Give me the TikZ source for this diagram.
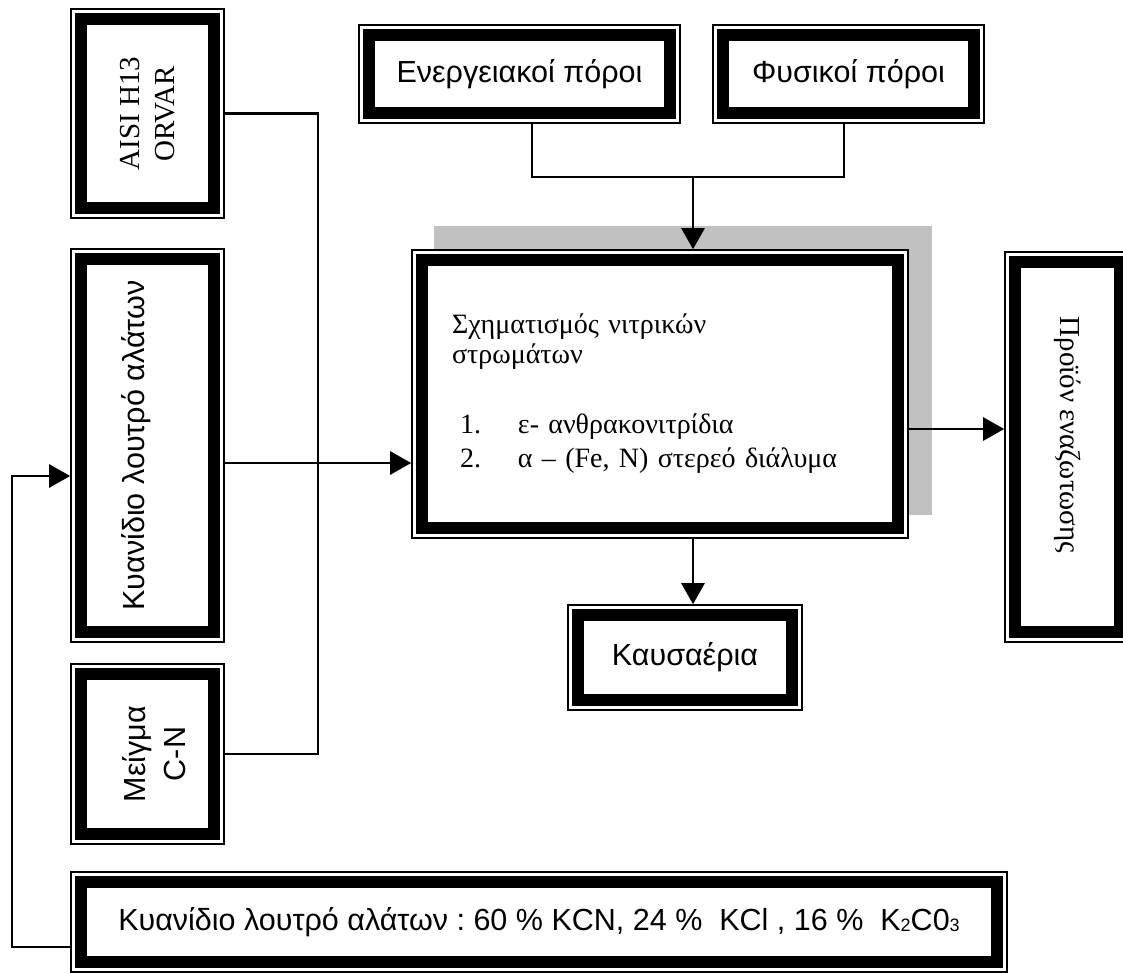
\documentclass[tikz,border=0pt]{standalone}
\usepackage{fontspec}
\setmainfont{Liberation Serif}
\newfontfamily\arialfont{Liberation Sans}
\usetikzlibrary{arrows.meta}
\definecolor{shadowgray}{HTML}{C0C0C0}
\newcommand{\smalldigit}[1]{\raisebox{-1.5pt}{\fontsize{18}{18}\selectfont #1}}
\begin{document}
\begin{tikzpicture}[x=1pt,y=-1pt,
  framebox/.style={draw, line width=1.6pt, fill=white, inner sep=0pt, anchor=center,
    path picture={\draw[line width=12pt]
      ([shift={(10pt,10pt)}]path picture bounding box.south west) rectangle
      ([shift={(-10pt,-10pt)}]path picture bounding box.north east);}},
  link/.style={line width=2.6pt},
  arrowlink/.style={link, -{Triangle[length=21pt,width=23pt]}},
  sanstext/.style={font=\arialfont\fontsize{30.5}{40}\selectfont},
  seriftext/.style={font=\fontsize{29}{40}\selectfont},
]
\useasboundingbox (0,0) rectangle (1123,973);

% shadow behind the central process box
\fill[shadowgray] (434,226) rectangle (932,515);

% input boxes on the left
\node[framebox, seriftext, minimum width=153pt, minimum height=209pt] (aisi) at (147.5,113.5)
  {\rotatebox{90}{\shortstack{AISI H13\\[13pt]ORVAR}}};
\node[framebox, sanstext, minimum width=153pt, minimum height=393pt] (bath) at (147.5,445.5)
  {\hspace*{-23pt}\rotatebox{90}{Κυανίδιο λουτρό αλάτων}};
\node[framebox, sanstext, minimum width=153pt, minimum height=180pt] (mix) at (147.5,754)
  {\hspace*{20pt}\rotatebox{90}{\begin{tabular}{@{}c@{}}Μείγμα\\C-N\end{tabular}}};

% resources at the top
\node[framebox, sanstext, minimum width=321pt, minimum height=98pt] (energy) at (519.5,74)
  {Ενεργειακοί πόροι};
\node[framebox, sanstext, minimum width=271pt, minimum height=98pt] (phys) at (848.5,74)
  {Φυσικοί πόροι};

% central process
\node[framebox, minimum width=496pt, minimum height=288pt, text width=416pt,
      inner xsep=40pt, align=left, font=\fontsize{28}{30}\selectfont] (main) at (660,394)
  {Σχηματισμός νιτρικών\\
   στρωμάτων\\[40pt]
   \hspace*{8pt}\makebox[58pt][l]{1.}ε- ανθρακονιτρίδια\\[4pt]
   \hspace*{8pt}\makebox[58pt][l]{2.}α – (Fe, N) στερεό διάλυμα};

% outputs
\node[framebox, sanstext, minimum width=234pt, minimum height=105pt] (exh) at (685,657.5)
  {Καυσαέρια};
\node[framebox, seriftext, minimum width=125pt, minimum height=390pt] (prod) at (1067.5,447)
  {\rotatebox{-90}{Προϊόν εναζωτωσης\hspace*{24pt}}};

% salt bath composition
\node[framebox, sanstext, minimum width=936pt, minimum height=100pt] (salt) at (539,922)
  {Κυανίδιο λουτρό αλάτων :\ 60 \% KCN, 24 \%\ \ KCl , 16 \%\ \ K\smalldigit{2}C0\smalldigit{3}};

% connectors
\coordinate (bend) at (318,0);
\draw[link] (aisi.east) -| (bend |- mix.east) -- (mix.east);

\coordinate (inY) at (0,463);
\draw[arrowlink] (bath.east |- inY) -- (main.west |- inY);

\coordinate (fb) at (12,947);
\coordinate (fbTop) at (12,476);
\draw[arrowlink] (salt.west |- fb) -- (fb) -- (fbTop) -- (bath.west |- fbTop);

\coordinate (merge) at (693,177);
\draw[link] ([xshift=12.5pt]energy.south) |- (merge) -| ([xshift=-4.5pt]phys.south);
\draw[arrowlink] (merge) -- (merge |- main.north);
\draw[arrowlink] (merge |- main.south) -- (merge |- exh.north);

\coordinate (outY) at (0,429);
\draw[arrowlink] (main.east |- outY) -- (prod.west |- outY);
\end{tikzpicture}
\end{document}
